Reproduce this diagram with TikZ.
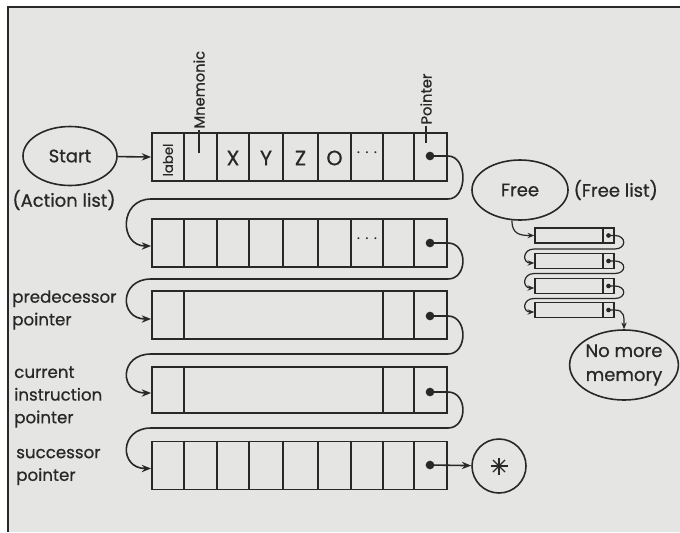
\documentclass[tikz,border=0pt]{standalone}
\usepackage{fontspec}
\setmainfont{Poppins}[FakeBold=0.7]
\usetikzlibrary{shapes.geometric,arrows.meta,calc}
\definecolor{bg}{RGB}{229,229,227}
\definecolor{ink}{RGB}{40,40,40}
\begin{document}
\begin{tikzpicture}[x=0.75pt,y=-0.75pt,
  every node/.style={text=ink},
  txt/.style={font=\fontsize{13.5}{18}\selectfont},
  celltxt/.style={font=\fontsize{15.5}{18}\selectfont},
  lefttxt/.style={font=\fontsize{12.5}{17}\selectfont},
  smalltxt/.style={font=\fontsize{11}{13}\selectfont},
  rec/.style={draw=ink, line width=1.4pt, minimum width=221.25pt, minimum height=36pt, inner sep=0pt},
  frec/.style={draw=ink, line width=1.1pt, minimum width=59.25pt, minimum height=11.25pt, inner sep=0pt},
  div/.style={draw=ink, line width=1.2pt},
  ptrdot/.style={circle, fill=ink, inner sep=0pt, minimum size=6.5pt},
  sptrdot/.style={circle, fill=ink, inner sep=0pt, minimum size=3.5pt},
  link/.style={draw=ink, line width=1.2pt, -{Stealth[length=7pt,width=5.5pt]}},
  flink/.style={draw=ink, line width=0.9pt, -{Stealth[length=5pt,width=4pt]}},
  oval/.style={ellipse, draw=ink, line width=1.2pt, inner sep=0pt, txt, align=center},
]
\useasboundingbox (0,0) rectangle (680,532);
\fill[bg] (8,7) rectangle (680,532);
\draw[ink, line width=1.6pt] (8,532) -- (8,7) -- (680,7);

% Start
\node[oval, minimum width=70.5pt, minimum height=44.25pt] (start) at (70,156) {Start};
\node[txt] (actl) at (64,200) {(Action list)};

% records
\node[rec] (r1) at (299.5,157) {};
\node[rec] (r2) at (299.5,243) {};
\node[rec] (r3) at (299.5,315) {};
\node[rec, minimum height=34.5pt] (r4) at (299.5,390) {};
\node[rec] (r5) at (299.5,465.5) {};

\foreach \r in {r1,r2,r5}
  \foreach \x in {184,217,249,283,318,351,383,414}
    \draw[div] (\x,0 |- \r.north) -- (\x,0 |- \r.south);
\foreach \r in {r3,r4}
  \foreach \x in {184,383,414}
    \draw[div] (\x,0 |- \r.north) -- (\x,0 |- \r.south);

% cell texts
\node[font=\fontsize{10}{12}\selectfont, rotate=90] (lbl) at (168,160) {label};
\node[celltxt] (cx) at (233,158) {X};
\node[celltxt] (cy) at (266,158) {Y};
\node[celltxt] (cz) at (300.5,158) {Z};
\node[celltxt] (co) at (334.5,158) {O};
\node[txt] (cd1) at (367,153) {$\cdots$};
\node[txt] (cd2) at (367,239) {$\cdots$};

% Mnemonic and Pointer labels
\node[smalltxt, rotate=90, anchor=west, inner sep=1pt] (mn) at (199,130) {Mnemonic};
\coordinate (mnt) at (199,153);
\draw[div] (mn.west) -- (mnt);
\node[smalltxt, rotate=90, anchor=west, inner sep=1pt] (pt) at (426,126) {Pointer};
\coordinate (ptt) at (426,143);
\draw[div] (pt.west) -- (ptt);

% pointer dots
\node[ptrdot] (d1) at (430,156) {};
\node[ptrdot] (d2) at (430,243) {};
\node[ptrdot] (d3) at (430,316) {};
\node[ptrdot] (d4) at (430,392) {};
\node[ptrdot] (d5) at (430,465) {};

\coordinate (h1) at (0,199);
\coordinate (h2) at (0,279);
\coordinate (h3) at (0,354);
\coordinate (h4) at (0,428);

% left labels
\node[lefttxt, anchor=west, align=left, inner sep=0pt] (pred) at (12,310) {predecessor\\pointer};
\node[lefttxt, anchor=west, align=left, inner sep=0pt] (curr) at (14,397) {current\\instruction\\pointer};
\node[lefttxt, anchor=west, align=left, inner sep=0pt] (succ) at (16,467) {successor\\pointer};

% terminator
\node[circle, draw=ink, line width=1.2pt, minimum size=40.5pt, inner sep=0pt] (term) at (499,466) {};
\foreach \a in {0,45,90,135}
  \draw[ink, line width=0.9pt] ($(term)+(\a:8.5)$) -- ($(term)+(\a+180:8.5)$);

% links of action list
\draw[link] (start) -- (r1.west);
\draw[link] (d1.center) -- (r1.east |- d1) .. controls +(20,0) and +(20,0) .. (r1.east |- h1) -- (r2.west |- h1) .. controls +(-32,0) and +(-32,0) .. ($(r2.west)+(0,3)$);
\draw[link] (d2.center) -- (r2.east |- d2) .. controls +(20,0) and +(20,0) .. (r2.east |- h2) -- (r3.west |- h2) .. controls +(-32,0) and +(-32,0) .. ($(r3.west)+(0,4)$);
\draw[link] (d3.center) -- (r3.east |- d3) .. controls +(20,0) and +(20,0) .. (r3.east |- h3) -- (r4.west |- h3) .. controls +(-32,0) and +(-32,0) .. ($(r4.west)+(0,3)$);
\draw[link] (d4.center) -- (r4.east |- d4) .. controls +(20,0) and +(20,0) .. (r4.east |- h4) -- (r5.west |- h4) .. controls +(-32,0) and +(-32,0) .. ($(r5.west)+(0,3)$);
\draw[link] (d5.center) -- (term);

% free list
\node[oval, minimum width=72pt, minimum height=45pt] (free) at (520,190) {Free};
\node[txt, anchor=west] (fl) at (569,190) {(Free list)};
\node[frec] (f1) at (574.5,235.5) {};
\node[frec] (f2) at (574.5,261) {};
\node[frec] (f3) at (574.5,286) {};
\node[frec] (f4) at (574.5,310) {};
\foreach \f in {f1,f2,f3,f4}
  \draw[draw=ink, line width=0.9pt] (603,0 |- \f.north) -- (603,0 |- \f.south);
\node[sptrdot] (fd1) at (608.5,235.5) {};
\node[sptrdot] (fd2) at (608.5,261) {};
\node[sptrdot] (fd3) at (608.5,286) {};
\node[sptrdot] (fd4) at (608.5,310) {};
\coordinate (fh1) at (0,249);
\coordinate (fh2) at (0,273.5);
\coordinate (fh3) at (0,298.5);

\node[oval, minimum width=81pt, minimum height=52.5pt] (nomem) at (624,365) {No more\\memory};

\draw[flink] (free.255) .. controls +(0,14) and +(-14,0) .. (f1.west);
\draw[flink] (fd1.center) -- (f1.east |- fd1) .. controls +(12,0) and +(12,0) .. (f1.east |- fh1) -- (f2.west |- fh1) .. controls +(-12,0) and +(-12,0) .. ($(f2.west)+(0,2)$);
\draw[flink] (fd2.center) -- (f2.east |- fd2) .. controls +(12,0) and +(12,0) .. (f2.east |- fh2) -- (f3.west |- fh2) .. controls +(-12,0) and +(-12,0) .. ($(f3.west)+(0,2)$);
\draw[flink] (fd3.center) -- (f3.east |- fd3) .. controls +(12,0) and +(12,0) .. (f3.east |- fh3) -- (f4.west |- fh3) .. controls +(-12,0) and +(-12,0) .. ($(f4.west)+(0,2)$);
\draw[flink] (fd4.center) -- (f4.east |- fd4) .. controls +(10,0) and +(0,-12) .. (nomem.north);
\end{tikzpicture}
\end{document}
